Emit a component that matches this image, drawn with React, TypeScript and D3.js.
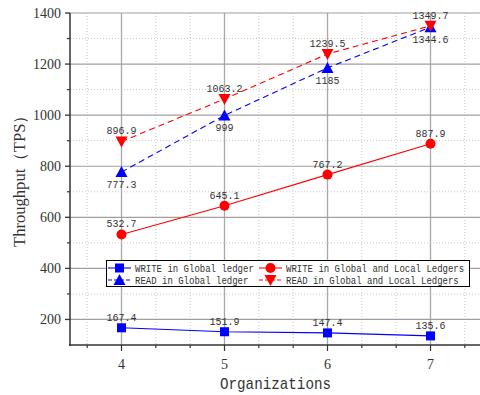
import React from "react";
import * as d3 from "d3";

const orgs = [4, 5, 6, 7];
const writeGlobal = [167.4, 151.9, 147.4, 135.6];
const readGlobal = [777.3, 999, 1185, 1344.6];
const writeBoth = [532.7, 645.1, 767.2, 887.9];
const readBoth = [896.9, 1063.2, 1239.5, 1349.7];
const yTicks = [200, 400, 600, 800, 1000, 1200, 1400];
const yMinor = [100, 300, 500, 700, 900, 1100, 1300];

const seriesList = [
  { name: "WRITE in Global ledger", values: writeGlobal, color: "#0000ff", marker: "square", dashed: false, labelPos: "above" },
  { name: "READ in Global ledger", values: readGlobal, color: "#0000ff", marker: "up", dashed: true, labelPos: "below" },
  { name: "WRITE in Global and Local Ledgers", values: writeBoth, color: "#ff0000", marker: "circle", dashed: false, labelPos: "above" },
  { name: "READ in Global and Local Ledgers", values: readBoth, color: "#ff0000", marker: "down", dashed: true, labelPos: "above" },
];

const monoFont = "'Liberation Mono', monospace";
const serifFont = "'Liberation Serif', 'DejaVu Serif', serif";

function Marker({ kind, x, y, color }: { kind: string; x: number; y: number; color: string }) {
  if (kind === "square") return <rect x={x - 4.5} y={y - 4.5} width={9} height={9} fill={color} />;
  if (kind === "circle") return <circle cx={x} cy={y} r={5} fill={color} />;
  if (kind === "up") return <path d={`M${x},${y - 6}L${x + 6},${y + 5}L${x - 6},${y + 5}Z`} fill={color} />;
  return <path d={`M${x},${y + 6}L${x + 6},${y - 5}L${x - 6},${y - 5}Z`} fill={color} />;
}

export default function App() {
  const x = d3.scaleLinear().domain([3.5, 7.5]).range([70, 482]);
  const y = d3.scaleLinear().domain([100, 1400]).range([345, 13]);
  const thirds = d3.range(3.5, 7.5, 1 / 3).map((v) => Math.round((v + 1 / 6) * 3) / 3).filter((v) => v > 3.5 && v < 7.5);
  const minorX = thirds.filter((v) => Math.abs(v - Math.round(v)) > 0.01);
  const line = d3.line<number>().x((_, i) => x(orgs[i])).y((d) => y(d));

  return (
    <svg width={480} height={395} style={{ position: "absolute", left: 0, top: 0, background: "#fff" }}>
      {/* minor grid */}
      {minorX.map((v) => (
        <line key={"mx" + v} x1={x(v)} x2={x(v)} y1={13} y2={345} stroke="#c8c8c8" strokeDasharray="1,2" />
      ))}
      {yMinor.slice(1).map((v) => (
        <line key={"my" + v} x1={70} x2={480} y1={y(v)} y2={y(v)} stroke="#c8c8c8" strokeDasharray="1,2" />
      ))}
      {/* major grid */}
      {orgs.map((v) => (
        <line key={"gx" + v} x1={x(v)} x2={x(v)} y1={13} y2={345} stroke="#a8a8a8" strokeWidth={1.3} />
      ))}
      {yTicks.map((v) => (
        <line key={"gy" + v} x1={70} x2={480} y1={y(v)} y2={y(v)} stroke="#a0a0a0" strokeWidth={1.2} />
      ))}

      {/* axes */}
      <line x1={70} x2={70} y1={13} y2={346} stroke="#333" strokeWidth={1.5} />
      <line x1={69} x2={480} y1={345} y2={345} stroke="#333" strokeWidth={1.5} />
      {yTicks.map((v) => (
        <g key={"yt" + v}>
          <line x1={65} x2={70} y1={y(v)} y2={y(v)} stroke="#333" strokeWidth={1.3} />
          <text x={61} y={y(v) + 5} textAnchor="end" fontFamily={serifFont} fontSize={14} fill="#333">{v}</text>
        </g>
      ))}
      {yMinor.slice(1).map((v) => (
        <line key={"ym" + v} x1={67} x2={70} y1={y(v)} y2={y(v)} stroke="#333" strokeWidth={1.2} />
      ))}
      {thirds.map((v) => {
        const major = Math.abs(v - Math.round(v)) < 0.01;
        return <line key={"xt" + v} x1={x(v)} x2={x(v)} y1={345} y2={major ? 351 : 348} stroke="#333" strokeWidth={1.2} />;
      })}
      {orgs.map((v) => (
        <text key={"xl" + v} x={x(v)} y={369} textAnchor="middle" fontFamily={serifFont} fontSize={14} fill="#333">{v}</text>
      ))}
      <text x={220} y={389} textLength={111} lengthAdjust="spacingAndGlyphs" fontFamily={monoFont} fontSize={17} fill="#333">Organizations</text>
      <text transform="translate(25,177) rotate(-90)" textAnchor="middle" textLength={140} lengthAdjust="spacingAndGlyphs" fontFamily={serifFont} fontSize={16} fill="#333">Throughput（TPS）</text>

      {/* series */}
      {seriesList.map((s) => (
        <g key={s.name}>
          <path d={line(s.values) || ""} fill="none" stroke={s.color} strokeWidth={1.1} strokeDasharray={s.dashed ? "6,4" : undefined} />
          {s.values.map((v, i) => (
            <Marker key={i} kind={s.marker} x={x(orgs[i])} y={y(v)} color={s.color} />
          ))}
          {s.values.map((v, i) => {
            const t = String(v);
            return (
              <text key={"l" + i} x={x(orgs[i])} y={s.labelPos === "above" ? y(v) - 7 : y(v) + 16} textAnchor="middle" textLength={t.length * 6} lengthAdjust="spacingAndGlyphs" fontFamily={monoFont} fontSize={11.5} fill="#333">{t}</text>
            );
          })}
        </g>
      ))}

      {/* legend */}
      <rect x={106.5} y={260.5} width={363} height={26} fill="#fff" stroke="#000" strokeWidth={1} />
      {seriesList.map((s, i) => {
        const col = i >> 1;
        const row = i % 2;
        const lx = col === 0 ? 108 : 259;
        const ly = 268 + row * 12;
        return (
          <g key={"lg" + s.name}>
            <line x1={lx} x2={lx + 23} y1={ly} y2={ly} stroke={s.color} strokeWidth={1.1} strokeDasharray={s.dashed ? "4,2" : undefined} />
            <Marker kind={s.marker} x={lx + 11.5} y={ly} color={s.color} />
            <text transform={`translate(${lx + 27},${ly + 4}) scale(1,1.2)`} fontFamily={monoFont} fontSize={9} fill="#333">{s.name}</text>
          </g>
        );
      })}
    </svg>
  );
}
